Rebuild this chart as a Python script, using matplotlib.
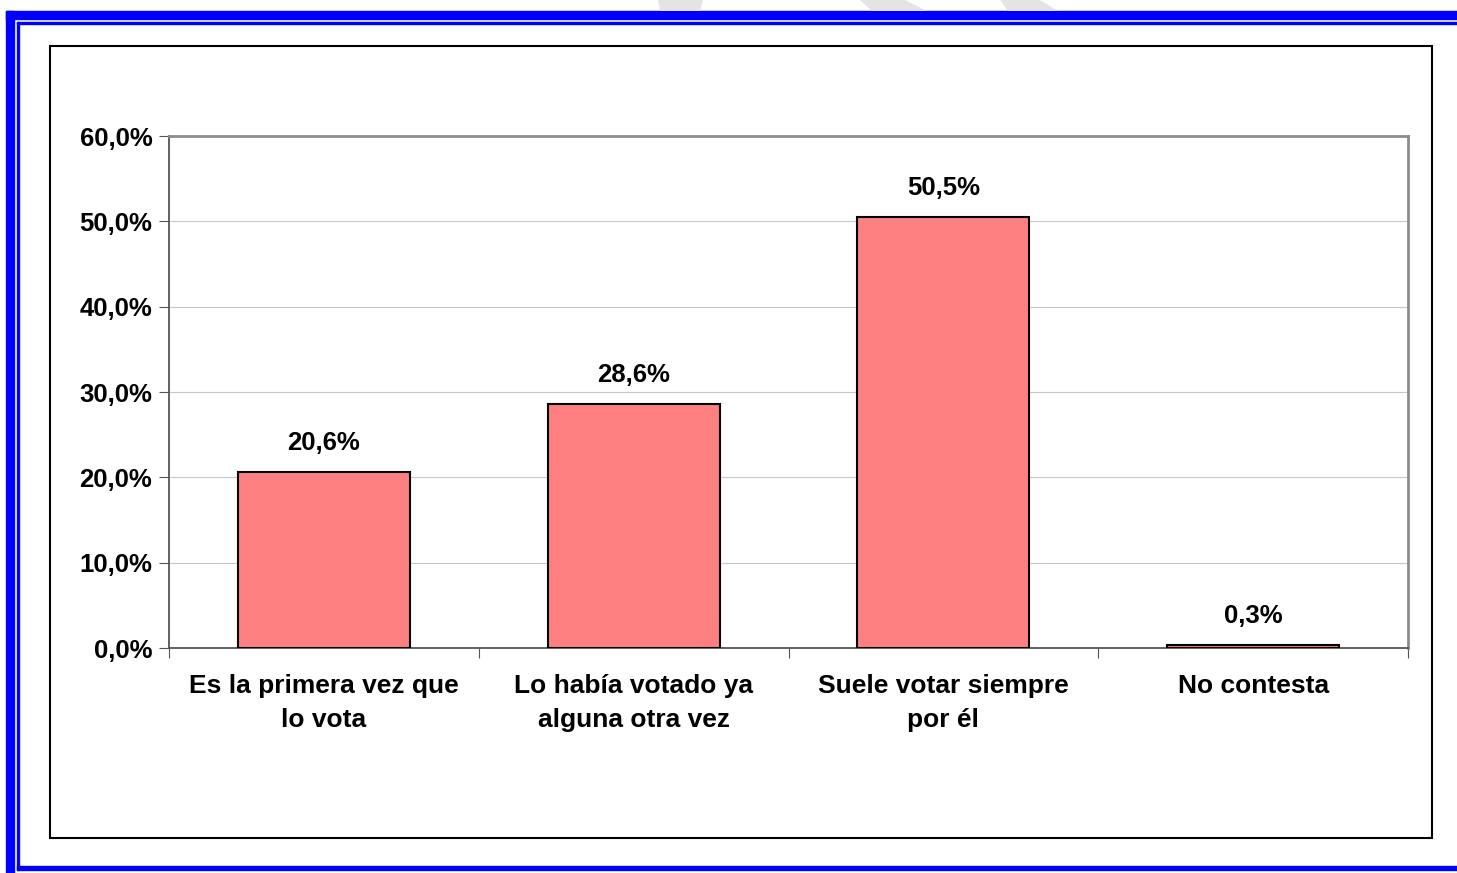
import matplotlib
matplotlib.use("Agg")
import matplotlib.pyplot as plt
from matplotlib.patches import Rectangle, Polygon

# DATA
categorias = ["Es la primera vez que\nlo vota", "Lo había votado ya\nalguna otra vez",
              "Suele votar siempre\npor él", "No contesta"]
valores = [20.6, 28.6, 50.5, 0.3]
etiquetas = ["20,6%", "28,6%", "50,5%", "0,3%"]
yticks = [0, 10, 20, 30, 40, 50, 60]
ytick_labels = ["0,0%", "10,0%", "20,0%", "30,0%", "40,0%", "50,0%", "60,0%"]

plt.rcParams['font.family'] = ['Liberation Sans', 'DejaVu Sans']

W, H = 1457, 873
fig = plt.figure(figsize=(W / 100, H / 100), dpi=100)

def fx(px):
    return px / W

def fy(py):
    return 1 - py / H

# marco azul
blue = "#0000ff"
fig.patches.append(Rectangle((fx(6), fy(19)), fx(1460 - 6), fy(11) - fy(19), color=blue, transform=fig.transFigure, zorder=0))
fig.patches.append(Rectangle((fx(6), fy(873)), fx(8), fy(11) - fy(873), color=blue, transform=fig.transFigure, zorder=0))
fig.patches.append(Rectangle((fx(17), fy(24)), fx(1460 - 17), fy(22) - fy(24), color=blue, transform=fig.transFigure, zorder=0))
fig.patches.append(Rectangle((fx(17), fy(870)), fx(2), fy(22) - fy(870), color=blue, transform=fig.transFigure, zorder=0))
fig.patches.append(Rectangle((fx(17), fy(870)), fx(1460 - 17), fy(866) - fy(870), color=blue, transform=fig.transFigure, zorder=0))

# marca de agua gris arriba
for pts in [[(658, 0), (703, 0), (700, 11), (660, 11)],
            [(860, 0), (905, 0), (927, 11), (872, 11)],
            [(1000, 0), (1040, 0), (1058, 11), (1008, 11)]]:
    fig.patches.append(Polygon([(fx(a), fy(b)) for a, b in pts], closed=True,
                               facecolor="#e4e4e4", edgecolor="none", transform=fig.transFigure, zorder=0))

# recuadro negro del gráfico
fig.patches.append(Rectangle((fx(50), fy(838)), fx(1432 - 50), fy(46) - fy(838), facecolor="none",
                             edgecolor="black", linewidth=1.5, transform=fig.transFigure, zorder=1))

ax = fig.add_axes([fx(169), fy(648), fx(1408 - 169), fy(136) - fy(648)])
x = range(len(categorias))
ax.bar(x, valores, width=0.555, color="#ff8080", edgecolor="black", linewidth=1.5, zorder=3)
for i, v in enumerate(valores):
    ax.text(i, v + 2.0, etiquetas[i], ha="center", va="bottom", fontsize=18.5, fontweight="bold")

ax.set_xlim(-0.5, len(categorias) - 0.5)
ax.set_ylim(0, 60)
ax.set_yticks(yticks)
ax.set_yticklabels(ytick_labels, fontsize=18.5, fontweight="bold")
ax.set_xticks([i + 0.5 for i in range(-1, len(categorias))])
ax.set_xticklabels([])
ax.set_xticks(list(x), minor=True)
ax.set_xticklabels(categorias, minor=True, fontsize=19, fontweight="bold", linespacing=1.5)
ax.tick_params(axis="x", which="minor", length=0, pad=19)
ax.tick_params(axis="x", which="major", length=7, direction="out", color="#555555")
ax.tick_params(axis="y", length=7, direction="out", color="#555555", pad=5)
ax.grid(axis="y", color="#c8c8c8", linewidth=0.8, zorder=0)
for s in ["top", "right"]:
    ax.spines[s].set_color("#8c8c8c")
    ax.spines[s].set_linewidth(2)
ax.spines["left"].set_color("#555555")
ax.spines["bottom"].set_color("#555555")
ax.spines["left"].set_linewidth(1.3)
ax.spines["bottom"].set_linewidth(1.3)

fig.savefig("out.png", dpi=100)
